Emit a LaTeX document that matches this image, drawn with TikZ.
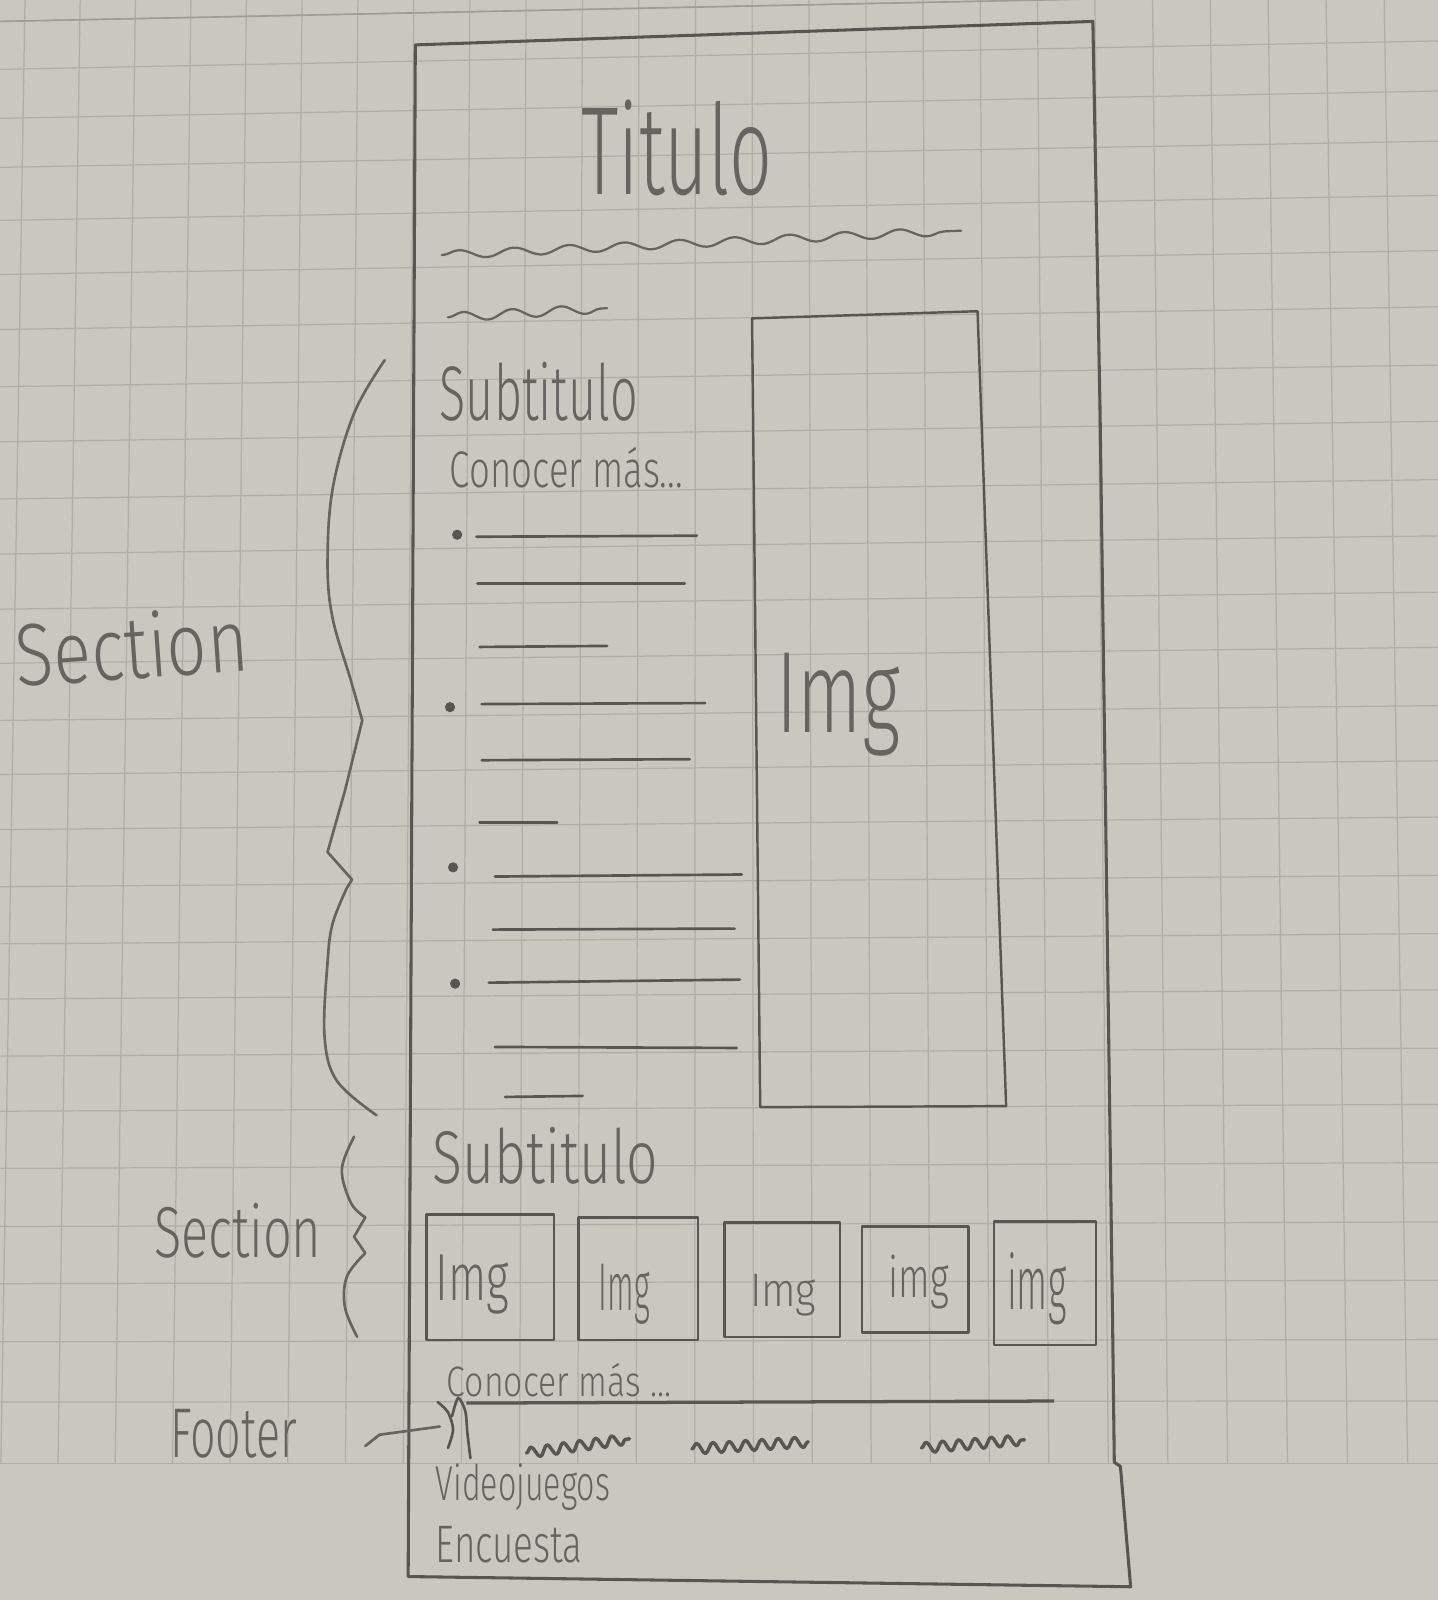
\documentclass[tikz,border=0pt]{standalone}
\usepackage{fontspec}
\usepackage{graphicx}
\newfontfamily\hand{Fira Sans Light}
\usetikzlibrary{decorations.pathmorphing}
\definecolor{paper}{RGB}{202,199,192}
\definecolor{gridc}{RGB}{175,173,166}
\definecolor{pencil}{RGB}{88,86,82}
\definecolor{lead}{RGB}{102,100,96}
\newdimen\sunit \sunit=0.5pt
% handwritten label squeezed into a w x h box (sketch units)
\newcommand\hw[3]{\resizebox*{#1\sunit}{#2\sunit}{\hand #3}}
\tikzset{
  gridline/.style={gridc, line width=0.6pt},
  frame/.style={pencil, line width=1.5pt, line join=round},
  box/.style={pencil, line width=1.2pt, line join=round},
  rule/.style={pencil, line width=1.3pt, line cap=round},
  brace/.style={lead, line width=1.3pt, line cap=round, line join=round},
  wave/.style={lead, line width=1.1pt, line cap=round, decorate},
  scrib/.style={pencil, line width=1.7pt, line cap=round, line join=round, decorate,
    decoration={snake, segment length=8pt, amplitude=2.6pt}},
  txt/.style={inner sep=0pt, text=lead},
  bullet/.style={circle, fill=pencil, inner sep=0pt, minimum size=5pt}
}
\begin{document}
\begin{tikzpicture}[x=0.5pt, y=-0.5pt]
\useasboundingbox (0,0) rectangle (1409,1568);
\fill[paper] (0,0) rectangle (1409,1568);

% squared paper
\foreach \k in {0,...,24} {
  \pgfmathsetmacro\xt{24.5+54*\k+0.0625*\k*\k}
  \pgfmathsetmacro\xb{\xt+(\xt-700)*0.035}
  \draw[gridline] (\xt,0) -- (\xb,1434);
}
\foreach \yl [count=\i from 0] in {21,68,116,164,216,269,323,379,433,489,543,597,650,706,759,813,869,925,979,1035,1089,1145,1202,1258,1315,1374,1434} {
  \pgfmathsetmacro\yr{\yl-29*(1-\i/26)}
  \draw[gridline] (0,\yl) -- (1409,\yr);
}
\draw[gridc!80!pencil, line width=0.8pt] (0,21) -- (1409,-8);

% page outline
\draw[frame] (407,44) -- (1071,21) -- (1078,400) -- (1090,1270) -- (1092,1433)
  -- (1098,1437) -- (1108,1555) -- (400,1545) -- cycle;

% header
\node[txt] (title) at (663.5,145) {\hw{187}{94}{Titulo}};
\draw[wave, decoration={snake, segment length=27pt, amplitude=2pt}] (433,250) -- (942,226);
\draw[wave, decoration={snake, segment length=24pt, amplitude=2.2pt}] (439,311) -- (595,302);

% first section
\node[txt] (sub1) at (528,384) {\hw{194}{58}{Subtitulo}};
\node[txt] (more1) at (555,458) {\hw{228}{40}{Conocer más...}};

\node[bullet] (b1) at (448,524) {};
\node[bullet] (b2) at (441,693) {};
\node[bullet] (b3) at (444,850) {};
\node[bullet] (b4) at (446,964) {};
\draw[rule] (467,526) -- (683,525);
\draw[rule] (468,572) -- (671,572);
\draw[rule] (470,634) -- (595,633);
\draw[rule] (472,690) -- (691,689);
\draw[rule] (472,745) -- (676,744);
\draw[rule] (470,806) -- (546,806);
\draw[rule] (485,859) -- (727,857);
\draw[rule] (483,911) -- (720,910);
\draw[rule] (479,963) -- (725,960);
\draw[rule] (485,1026) -- (722,1027);
\draw[rule] (495,1075) -- (571,1074);

\draw[box] (737,312) -- (958,305) -- (986,1084) -- (745,1085) -- cycle;
\node[txt] (imgbig) at (821.5,690.5) {\hw{121}{101}{Img}};

\draw[brace] plot[smooth, tension=0.6] coordinates {(377,353) (347,405) (326,479) (321,553) (326,606) (343,664) (355,706)}
  -- (338,775) -- (321,835) -- (345,862) -- (340,870)
  plot[smooth, tension=0.6] coordinates {(340,870) (326,905) (321,943) (318,1015) (330,1059) (369,1093)};
\node[txt, rotate=4] (sec1) at (129,633) {\hw{228}{66}{Section}};

% second section
\node[txt] (sub2) at (534.5,1133) {\hw{221}{56}{Subtitulo}};
\draw[box] (418,1190) rectangle (543,1313);
\draw[box] (567,1193) rectangle (684,1313);
\draw[box] (710,1198) rectangle (823,1310);
\draw[box] (845,1202) rectangle (949,1306);
\draw[box] (974,1197) rectangle (1074,1318);
\node[txt] (t1) at (463,1259) {\hw{72}{58}{Img}};
\node[txt] (t2) at (612,1268.5) {\hw{50}{59}{Img}};
\node[txt] (t3) at (767.5,1269.5) {\hw{65}{41}{Img}};
\node[txt] (t4) at (900.5,1256.5) {\hw{59}{53}{img}};
\node[txt] (t5) at (1016,1262.5) {\hw{58}{71}{img}};
\draw[brace] plot[smooth, tension=0.6] coordinates {(347,1114) (335,1146) (344,1179) (358,1193)}
  -- (347,1212) -- (358,1228)
  plot[smooth, tension=0.6] coordinates {(358,1228) (340,1251) (338,1281) (350,1310)};
\node[txt] (sec2) at (233,1206) {\hw{164}{54}{Section}};
\node[txt] (more2) at (548,1352.5) {\hw{220}{33}{Conocer más ...}};

% footer
\draw[pencil, line width=1.6pt] (457,1375) -- (1033,1373);
\draw[pencil, line width=1.3pt, line cap=round] plot[smooth] coordinates {(429,1374) (439,1384) (444,1401) (439,1419)};
\draw[pencil, line width=1.3pt, line cap=round] plot[smooth] coordinates {(443,1388) (449,1370) (456,1383) (458,1404) (461,1429)};
\draw[scrib] (516,1424) -- (617,1410);
\draw[scrib] (678,1420) -- (792,1413);
\draw[scrib] (903,1419) -- (1004,1411);
\node[txt] (footer) at (229,1405) {\hw{124}{48}{Footer}};
\coordinate (ftail) at (358,1417);
\coordinate (fhead) at (431,1398);
\draw[brace] (ftail) -- (372,1406) -- (fhead);
\node[txt] (video) at (512.5,1457) {\hw{171}{46}{Videojuegos}};
\node[txt] (enc) at (499,1514) {\hw{144}{36}{Encuesta}};
\end{tikzpicture}
\end{document}
